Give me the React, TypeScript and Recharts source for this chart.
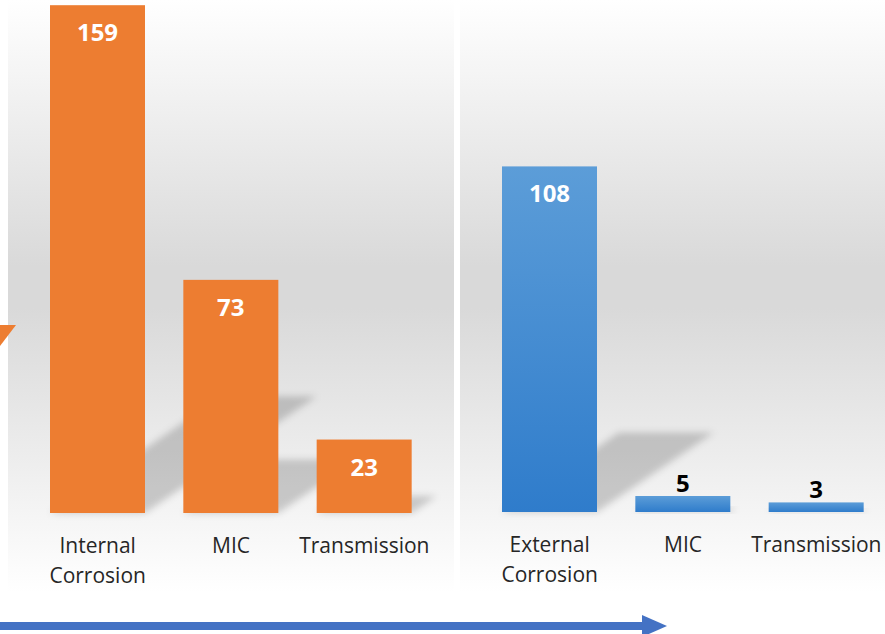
import React from 'react';
import { BarChart, Bar, XAxis, YAxis, LabelList } from 'recharts';

const leftCategories = ['Internal Corrosion', 'MIC', 'Transmission'];
const leftValues = [159, 73, 23];
const rightCategories = ['External Corrosion', 'MIC', 'Transmission'];
const rightValues = [108, 5, 3];

const leftData = leftCategories.map((name, i) => ({ name, value: leftValues[i] }));
const rightData = rightCategories.map((name, i) => ({ name, value: rightValues[i] }));

const FONT = '"Open Sans", "Liberation Sans", sans-serif';
const panelBg = 'linear-gradient(to bottom, #ffffff 0%, #d9d9d9 45%, #d9d9d9 52%, #ffffff 100%)';

// bar with a perspective shadow leaning up-right, like the office chart style
const shadowBar = (fill: string) => (props: any) => {
    const { x, y, width, height } = props;
    if (height == null || height <= 0) return null;
    const base = y + height;
    const sh = height * 0.23;
    const dx = sh / 0.68;
    const pts = `${x},${base} ${x + width},${base} ${x + width + dx},${base - sh} ${x + dx},${base - sh}`;
    return (
        <g>
            <polygon points={pts} fill="rgba(0,0,0,0.18)" filter="url(#shadowBlur)" />
            <rect x={x} y={y} width={width} height={height} fill={fill} />
        </g>
    );
};

const CategoryTick = (props: any) => {
    const { x, y, payload } = props;
    const lines = String(payload.value).split(' ');
    return (
        <text x={x} y={y} textAnchor="middle" fill="#262626" fontFamily={FONT} fontSize={21}>
            {lines.map((l, i) => (
                <tspan key={i} x={x} dy={i === 0 ? 40 : 30}>{l}</tspan>
            ))}
        </text>
    );
};

const ValueLabel = (props: any) => {
    const { x, y, width, value } = props;
    const inside = value >= 20;
    return (
        <text
            x={x + width / 2}
            y={inside ? y + 36 : y - 4}
            textAnchor="middle"
            fill={inside ? '#ffffff' : '#000000'}
            fontFamily={FONT}
            fontWeight="bold"
            fontSize={24}
        >
            {value}
        </text>
    );
};

const Panel = ({ data, fill, width, height, margin, axisHeight }: any) => (
    <BarChart width={width} height={height} data={data} margin={margin}>
        <XAxis
            dataKey="name"
            axisLine={false}
            tickLine={false}
            tickSize={0}
            tickMargin={0}
            height={axisHeight}
            interval={0}
            tick={<CategoryTick />}
        />
        <YAxis hide domain={[0, 160]} />
        <Bar dataKey="value" barSize={95} shape={shadowBar(fill)} isAnimationActive={false}>
            <LabelList dataKey="value" content={<ValueLabel />} />
        </Bar>
    </BarChart>
);

export default function App() {
    return (
        <div style={{ position: 'absolute', left: 0, top: 0, width: 885, height: 634, background: '#ffffff', overflow: 'hidden' }}>
            <svg width={0} height={0} style={{ position: 'absolute' }}>
                <defs>
                    <filter id="shadowBlur" x="-50%" y="-50%" width="200%" height="200%">
                        <feGaussianBlur stdDeviation="3.5" />
                    </filter>
                    <linearGradient id="blueGrad" x1="0" y1="0" x2="0" y2="1">
                        <stop offset="0%" stopColor="#5c9dd8" />
                        <stop offset="100%" stopColor="#2f7ccb" />
                    </linearGradient>
                </defs>
            </svg>
            <div style={{ position: 'absolute', left: 8, top: 0, width: 446, height: 592, background: panelBg }} />
            <div style={{ position: 'absolute', left: 460, top: 0, width: 425, height: 592, background: panelBg }} />
            <div style={{ position: 'absolute', left: 0, top: 0 }}>
                <Panel
                    data={leftData}
                    fill="#ed7d31"
                    width={454}
                    height={600}
                    margin={{ top: 2, right: 23, bottom: 0, left: 31 }}
                    axisHeight={87}
                />
            </div>
            <div style={{ position: 'absolute', left: 460, top: 0 }}>
                <Panel
                    data={rightData}
                    fill="url(#blueGrad)"
                    width={425}
                    height={600}
                    margin={{ top: 0, right: 2, bottom: 0, left: 23 }}
                    axisHeight={88}
                />
            </div>
            <svg width={885} height={634} style={{ position: 'absolute', left: 0, top: 0, pointerEvents: 'none' }}>
                <polygon points="0,325 16,325 0,346" fill="#ed7d31" />
                <rect x={0} y={622} width={643} height={8} fill="#4472c4" />
                <polygon points="642,615 667,626 642,637" fill="#4472c4" />
            </svg>
        </div>
    );
}
